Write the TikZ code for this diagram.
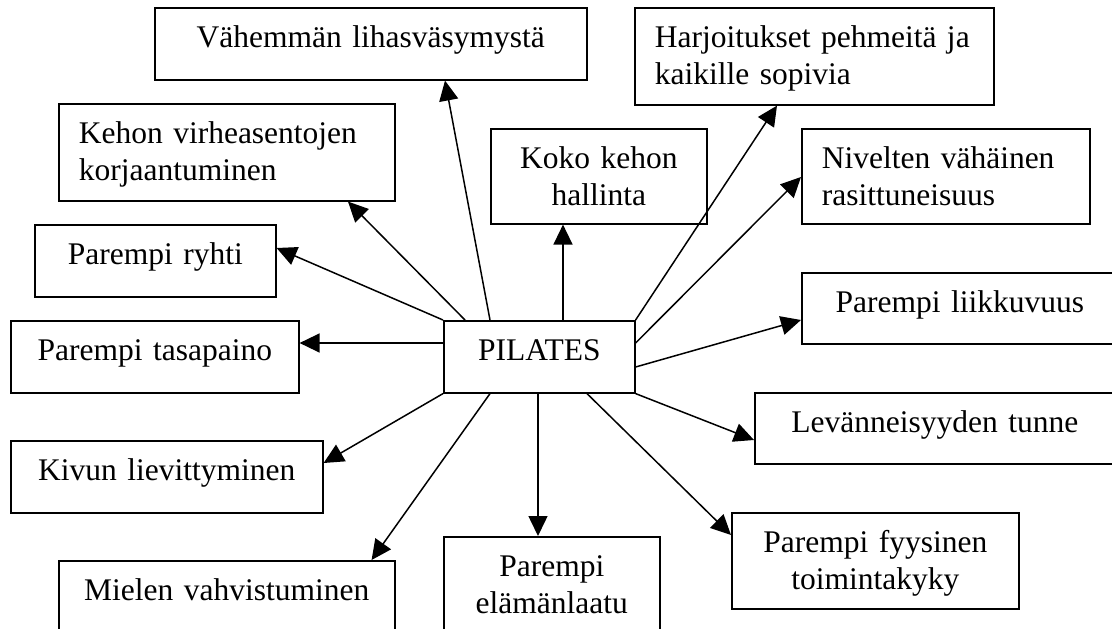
\documentclass[tikz,border=0pt]{standalone}
\usepackage{fontspec}
\setmainfont{Liberation Serif}
\usetikzlibrary{arrows.meta}
\newcommand\boxfont{\fontsize{31.5}{37}\selectfont}
\begin{document}
\begin{tikzpicture}[x=1pt,y=-1pt,
  box/.style={draw, line width=1.6pt, anchor=north west, inner ysep=0pt, inner xsep=0pt,
              font=\boxfont, text height=40pt, align=center},
  lbox/.style={box, inner xsep=20pt, align=left},
  sz/.style 2 args={text width=#1pt, text depth=#2pt},
  arr/.style={line width=1.5pt, -{Triangle[length=20pt,width=19pt]}}]
\useasboundingbox (0,0) rectangle (1112,629);

% outcome boxes around the centre
\node[box, sz={432}{32}] (V)  at (154,7)   {Vähemmän lihasväsymystä};
\node[lbox, sz={296}{57}] (K) at (58,103)  {\mbox{Kehon virheasentojen}\\korjaantuminen};
\node[box, sz={241}{32}] (R)  at (34,224)  {Parempi ryhti};
\node[box, sz={288}{32}] (T)  at (10,320)  {Parempi tasapaino};
\node[box, sz={312}{32}] (Kv) at (10,440)  {Kivun lievittyminen};
\node[box, sz={336}{32}] (M)  at (58,560)  {Mielen vahvistuminen};
\node[box, sz={216}{57}] (E)  at (443,536) {Parempi\\elämänlaatu};
\node[box, sz={287}{56}] (F)  at (731,512) {Parempi fyysinen\\toimintakyky};
\node[box, sz={360}{31}] (L)  at (754,392) {Levänneisyyden tunne};
\node[box, sz={316}{31}] (Li) at (801,272) {Parempi liikkuvuus};
\node[lbox, sz={248}{55}] (N) at (801,128) {\mbox{Nivelten vähäinen}\\rasittuneisuus};
\node[lbox, sz={319}{57}] (H) at (634,7)   {\mbox{Harjoitukset pehmeitä ja}\\kaikille sopivia};
\node[box, sz={216}{55}] (Ko) at (490,128) {Koko kehon\\hallinta};

% centre
\node[box, sz={191}{32}] (P)  at (443,320) {PILATES};

% connectors
\draw[arr] ([xshift=47pt]P.north west)  -- ([xshift=291pt]V.south west);
\draw[arr] ([xshift=22pt]P.north west)  -- ([xshift=290pt]K.south west);
\draw[arr] (P.north west)               -- ([yshift=-24pt]R.north east);
\draw[arr] ([yshift=-23pt]P.north west) -- ([yshift=-23pt]T.north east);
\draw[arr] (P.south west)               -- ([yshift=-23pt]Kv.north east);
\draw[arr] ([xshift=47pt]P.south west)  -- ([xshift=-24pt]M.north east);
\draw[arr] ([xshift=95pt]P.south west)  -- ([xshift=95pt]E.north west);
\draw[arr] ([xshift=144pt]P.south west) -- ([yshift=-23pt]F.north west);
\draw[arr] (P.south east)               -- ([yshift=-48pt]L.north west);
\draw[arr] ([yshift=-47pt]P.north east) -- ([yshift=-48pt]Li.north west);
\draw[arr] ([yshift=-23pt]P.north east) -- ([yshift=-49pt]N.north west);
\draw[arr] (P.north east)               -- ([xshift=143pt]H.south west);
\draw[arr] ([xshift=120pt]P.north west) -- ([xshift=73pt]Ko.south west);
\end{tikzpicture}
\end{document}
